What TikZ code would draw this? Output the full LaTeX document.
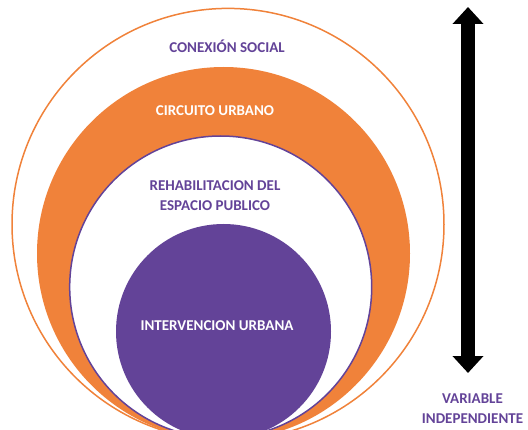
\documentclass[tikz,border=0pt]{standalone}
\usepackage{fontspec}
\setmainfont{Carlito}
\usetikzlibrary{arrows.meta}
\definecolor{orangeC}{RGB}{240,130,58}
\definecolor{purpleC}{RGB}{99,67,152}
\tikzset{
  label/.style={font=\fontsize{15}{20}\selectfont\bfseries, align=center, inner sep=0pt},
  bigarrow/.style={line width=14pt, {Triangle[width=30pt,length=17pt]}-{Triangle[width=30pt,length=17pt]}}
}
\begin{document}
\begin{tikzpicture}[x=1pt,y=1pt]
\useasboundingbox (0,0) rectangle (528,429);
\clip (0,0) rectangle (528,429);
% nested circles
\draw[orangeC, line width=1.5pt, fill=white] (228,204.6) circle (216);
\fill[orangeC] (223.5,175.5) circle (186.5);
\draw[purpleC, line width=1.5pt, fill=white] (220.7,142) circle (151);
\fill[purpleC] (223.5,97.5) circle (107.5);
% texts
\node[label, text=purpleC] (conexion) at (227,382.5) {CONEXIÓN SOCIAL};
\node[label, text=white] (circuito) at (215,318) {CIRCUITO URBANO};
\node[label, text=purpleC] (rehab) at (215,233) {REHABILITACION DEL\\ESPACIO PUBLICO};
\node[label, text=white] (interv) at (217,103) {INTERVENCION URBANA};
\node[label, text=purpleC] (variable) at (472.5,20) {VARIABLE\\INDEPENDIENTE};
% arrow
\coordinate (arrowtop) at (468,422);
\coordinate (arrowbot) at (468,56);
\draw[bigarrow] (arrowbot) -- (arrowtop);
\end{tikzpicture}
\end{document}
